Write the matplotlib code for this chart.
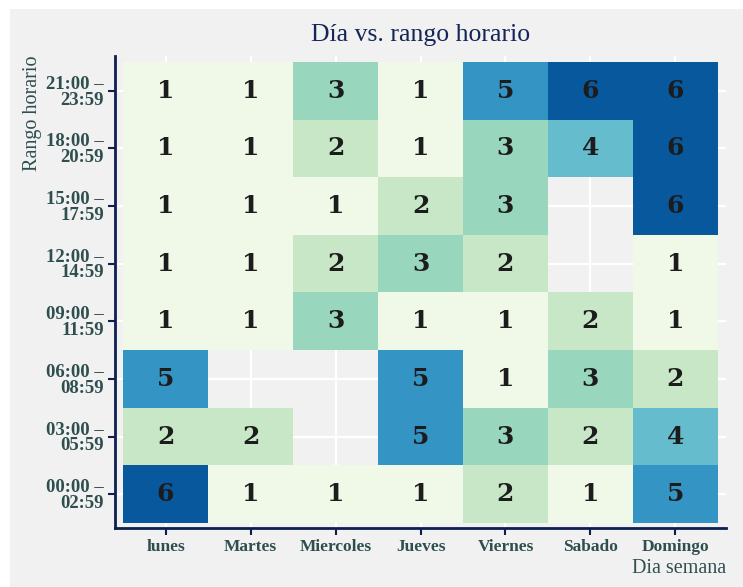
import numpy as np
import matplotlib.pyplot as plt
from matplotlib.colors import ListedColormap
from matplotlib.patches import Rectangle

dias = ["lunes", "Martes", "Miercoles", "Jueves", "Viernes", "Sabado", "Domingo"]
rangos = ["00:00 –\n02:59", "03:00 –\n05:59", "06:00 –\n08:59", "09:00 –\n11:59",
          "12:00 –\n14:59", "15:00 –\n17:59", "18:00 –\n20:59", "21:00 –\n23:59"]
# filas de abajo (00:00) hacia arriba (21:00), nan = sin registros
r_0000 = [6, 1, 1, 1, 2, 1, 5]
r_0300 = [2, 2, np.nan, 5, 3, 2, 4]
r_0600 = [5, np.nan, np.nan, 5, 1, 3, 2]
r_0900 = [1, 1, 3, 1, 1, 2, 1]
r_1200 = [1, 1, 2, 3, 2, np.nan, 1]
r_1500 = [1, 1, 1, 2, 3, np.nan, 6]
r_1800 = [1, 1, 2, 1, 3, 4, 6]
r_2100 = [1, 1, 3, 1, 5, 6, 6]

vals = np.array([r_0000, r_0300, r_0600, r_0900, r_1200, r_1500, r_1800, r_2100])

cmap = ListedColormap(["#f0f8e8", "#c7e7c6", "#98d6be", "#65bccd", "#3494c4", "#08589e"])

fig = plt.figure(figsize=(7.43, 5.87), dpi=100, facecolor="white")
fig.patches.append(Rectangle((10 / 743, 0), 1, 1 - 9 / 587, transform=fig.transFigure,
                             facecolor="#f1f1f1", edgecolor="none", zorder=-10))
ax = fig.add_axes([0.1548, 0.1005, 0.8223, 0.8041])
ax.set_facecolor("#f1f1f1")

ax.pcolormesh(np.arange(8) - 0.5, np.arange(9) - 0.5, np.ma.masked_invalid(vals),
              cmap=cmap, vmin=0.5, vmax=6.5, zorder=1)

for i in range(vals.shape[0]):
    for j in range(vals.shape[1]):
        if not np.isnan(vals[i, j]):
            ax.text(j, i, f"{int(vals[i, j])}", ha="center", va="center",
                    fontsize=18, fontweight="bold", family="DejaVu Serif",
                    color="#1c1c1c", zorder=2)

ax.set_xlim(-0.594, 6.594)
ax.set_ylim(-0.587, 7.604)
ax.set_xticks(range(7))
ax.set_xticklabels(dias)
ax.set_yticks(range(8))
ax.set_yticklabels(rangos, linespacing=0.9)
ax.grid(True, color="white", linewidth=1.6)
ax.set_axisbelow(True)

for s in ["top", "right"]:
    ax.spines[s].set_visible(False)
for s in ["left", "bottom"]:
    ax.spines[s].set_color("#0d1f4f")
    ax.spines[s].set_linewidth(2)

ax.tick_params(colors="#0d1f4f", length=5, width=1.5, pad=3)
for lab in ax.get_xticklabels():
    lab.set_fontsize(12.5)
for lab in ax.get_yticklabels():
    lab.set_fontsize(13.5)
for lab in ax.get_xticklabels() + ax.get_yticklabels():
    lab.set_color("#2f4f4f")
    lab.set_fontweight("bold")
    lab.set_family("Liberation Serif")

ax.set_title("Día vs. rango horario", family="Liberation Serif", fontsize=18.5,
             color="#142657", pad=11)
fig.text(0.044, 0.906, "Rango horario", rotation=90, ha="center", va="top",
         family="Liberation Serif", fontsize=14.5, color="#2f4f4f")
fig.text(0.977, 0.016, "Dia semana", ha="right", va="bottom",
         family="Liberation Serif", fontsize=14.5, color="#2f4f4f")

fig.savefig("out.png", dpi=100, facecolor=fig.get_facecolor())
